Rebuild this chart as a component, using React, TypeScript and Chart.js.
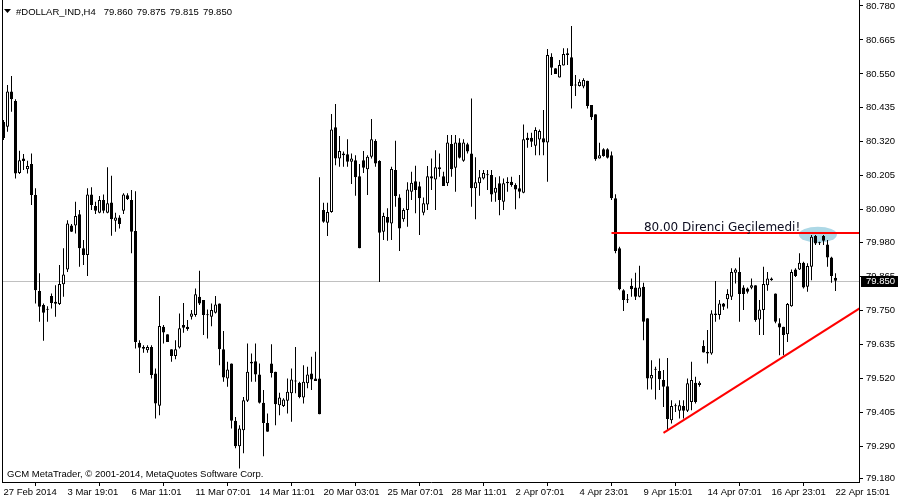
import React, { useEffect, useRef } from "react";
import { Chart, registerables } from "chart.js";
Chart.register(...registerables);

const opens = [
  80.387, 80.371, 80.490, 80.458, 80.215, 80.264, 80.227, 80.245, 80.140, 79.815,
  79.768, 79.753, 79.798, 79.779, 79.771, 79.838, 79.888, 80.037, 80.037, 80.075,
  79.960, 79.937, 80.142, 80.103, 80.080, 80.123, 80.080, 80.115, 80.053, 80.064,
  80.087, 80.139, 80.123, 80.018, 79.640, 79.626, 79.615, 79.626, 79.536, 79.427,
  79.694, 79.669, 79.618, 79.595, 79.624, 79.700, 79.694, 79.728, 79.734, 79.796,
  79.785, 79.734, 79.728, 79.742, 79.773, 79.618, 79.519, 79.570, 79.376, 79.290,
  79.344, 79.444, 79.576, 79.578, 79.533, 79.437, 79.369, 79.570, 79.542, 79.429,
  79.426, 79.444, 79.469, 79.510, 79.505, 79.455, 79.503, 79.536, 79.519, 79.519,
  80.089, 80.046, 80.083, 80.369, 80.264, 80.281, 80.278, 80.253, 80.258, 80.204,
  80.258, 80.227, 80.270, 80.323, 80.255, 80.016, 80.066, 80.044, 80.225, 80.132,
  80.058, 80.089, 80.151, 80.187, 80.170, 80.080, 80.108, 80.204, 80.193, 80.234,
  80.204, 80.180, 80.313, 80.232, 80.318, 80.256, 80.312, 80.281, 80.163, 80.180,
  80.196, 80.208, 80.208, 80.148, 80.180, 80.117, 80.180, 80.185, 80.174, 80.163,
  80.148, 80.334, 80.334, 80.307, 80.328, 80.332, 80.318, 80.608, 80.569, 80.538,
  80.578, 80.614, 80.606, 80.512, 80.509, 80.507, 80.527, 80.445, 80.413, 80.264,
  80.295, 80.295, 80.275, 80.129, 79.960, 79.818, 79.785, 79.833, 79.827, 79.796,
  79.830, 79.723, 79.519, 79.550, 79.545, 79.514, 79.493, 79.378, 79.426, 79.410,
  79.426, 79.410, 79.440, 79.505, 79.497, 79.629, 79.610, 79.604, 79.734, 79.734,
  79.773, 79.787, 79.796, 79.877, 79.880, 79.827, 79.824, 79.826, 79.835, 79.719,
  79.751, 79.835, 79.858, 79.807, 79.706, 79.694, 79.669, 79.764, 79.888, 79.888,
  79.911, 79.830, 79.897, 80.001, 79.978, 80.001, 79.973, 79.929, 79.860,
];
const highs = [
  80.394, 80.512, 80.543, 80.464, 80.290, 80.279, 80.256, 80.281, 80.163, 79.875,
  79.773, 79.764, 79.807, 79.835, 79.903, 79.960, 80.055, 80.042, 80.117, 80.089,
  79.988, 80.163, 80.166, 80.117, 80.137, 80.142, 80.234, 80.205, 80.080, 80.072,
  80.146, 80.146, 80.157, 80.153, 79.649, 79.632, 79.632, 79.632, 79.553, 79.798,
  79.700, 79.669, 79.618, 79.649, 79.739, 79.775, 79.717, 79.751, 79.824, 79.884,
  79.785, 79.753, 79.773, 79.798, 79.773, 79.680, 79.576, 79.570, 79.389, 79.361,
  79.457, 79.638, 79.604, 79.638, 79.570, 79.480, 79.401, 79.635, 79.542, 79.471,
  79.452, 79.519, 79.553, 79.626, 79.508, 79.564, 79.559, 79.593, 79.610, 80.200,
  80.114, 80.114, 80.414, 80.448, 80.340, 80.287, 80.329, 80.281, 80.275, 80.245,
  80.289, 80.275, 80.397, 80.329, 80.258, 80.080, 80.095, 80.236, 80.324, 80.143,
  80.095, 80.183, 80.219, 80.239, 80.185, 80.132, 80.238, 80.264, 80.292, 80.281,
  80.219, 80.343, 80.343, 80.343, 80.332, 80.329, 80.317, 80.467, 80.268, 80.225,
  80.225, 80.225, 80.225, 80.200, 80.204, 80.196, 80.200, 80.202, 80.180, 80.208,
  80.379, 80.351, 80.351, 80.369, 80.362, 80.428, 80.634, 80.620, 80.569, 80.597,
  80.637, 80.637, 80.712, 80.546, 80.532, 80.535, 80.527, 80.445, 80.413, 80.317,
  80.298, 80.298, 80.287, 80.143, 79.965, 79.821, 79.805, 79.858, 79.877, 79.901,
  79.843, 79.723, 79.581, 79.559, 79.587, 79.548, 79.589, 79.446, 79.435, 79.446,
  79.446, 79.519, 79.576, 79.525, 79.510, 79.649, 79.683, 79.750, 79.849, 79.785,
  79.775, 79.821, 79.892, 79.892, 79.929, 79.835, 79.827, 79.858, 79.835, 79.785,
  79.897, 79.880, 79.861, 79.807, 79.723, 79.694, 79.775, 79.888, 79.892, 79.943,
  79.914, 79.909, 80.005, 80.005, 79.982, 80.005, 79.988, 79.931, 79.875,
];
const lows = [
  80.326, 80.354, 80.422, 80.196, 80.211, 80.225, 80.213, 80.106, 79.773, 79.711,
  79.647, 79.711, 79.756, 79.728, 79.768, 79.796, 79.880, 80.015, 80.010, 79.897,
  79.903, 79.866, 80.089, 80.076, 80.078, 80.078, 80.078, 80.002, 80.016, 80.027,
  80.076, 80.123, 79.943, 79.621, 79.538, 79.606, 79.606, 79.519, 79.384, 79.395,
  79.638, 79.643, 79.576, 79.584, 79.621, 79.674, 79.681, 79.719, 79.728, 79.768,
  79.666, 79.655, 79.696, 79.739, 79.564, 79.508, 79.491, 79.350, 79.283, 79.215,
  79.266, 79.440, 79.508, 79.508, 79.435, 79.256, 79.339, 79.523, 79.361, 79.395,
  79.423, 79.401, 79.373, 79.469, 79.452, 79.435, 79.486, 79.480, 79.511, 79.398,
  80.046, 80.001, 80.080, 80.241, 80.236, 80.236, 80.236, 80.177, 80.138, 79.960,
  80.215, 80.140, 80.264, 80.236, 79.846, 79.988, 79.985, 79.988, 80.100, 79.951,
  80.050, 80.033, 80.123, 80.078, 80.005, 80.072, 80.089, 80.157, 80.089, 80.202,
  80.171, 80.171, 80.202, 80.151, 80.264, 80.253, 80.281, 80.100, 80.058, 80.138,
  80.193, 80.157, 80.117, 80.117, 80.072, 80.089, 80.151, 80.168, 80.092, 80.129,
  80.146, 80.300, 80.303, 80.275, 80.275, 80.275, 80.185, 80.546, 80.550, 80.538,
  80.578, 80.580, 80.433, 80.475, 80.507, 80.501, 80.433, 80.394, 80.256, 80.264,
  80.270, 80.264, 80.123, 79.943, 79.818, 79.748, 79.775, 79.796, 79.785, 79.794,
  79.649, 79.482, 79.482, 79.448, 79.480, 79.423, 79.344, 79.367, 79.406, 79.384,
  79.384, 79.406, 79.412, 79.435, 79.491, 79.607, 79.570, 79.600, 79.711, 79.719,
  79.751, 79.756, 79.785, 79.841, 79.711, 79.751, 79.807, 79.821, 79.711, 79.666,
  79.666, 79.816, 79.850, 79.706, 79.598, 79.598, 79.643, 79.762, 79.863, 79.886,
  79.824, 79.813, 79.852, 79.971, 79.971, 79.971, 79.897, 79.843, 79.815,
];
const closes = [
  80.333, 80.490, 80.464, 80.213, 80.258, 80.255, 80.238, 80.140, 79.818, 79.762,
  79.742, 79.752, 79.775, 79.772, 79.839, 79.871, 80.044, 80.016, 80.069, 79.960,
  79.937, 80.142, 80.106, 80.087, 80.123, 80.087, 80.112, 80.058, 80.064, 80.042,
  80.142, 80.127, 80.016, 79.643, 79.623, 79.620, 79.626, 79.531, 79.435, 79.697,
  79.675, 79.643, 79.595, 79.618, 79.689, 79.691, 79.687, 79.739, 79.804, 79.773,
  79.734, 79.733, 79.751, 79.770, 79.618, 79.523, 79.550, 79.376, 79.290, 79.350,
  79.446, 79.542, 79.570, 79.533, 79.437, 79.369, 79.339, 79.538, 79.432, 79.455,
  79.448, 79.474, 79.516, 79.509, 79.457, 79.508, 79.533, 79.516, 79.511, 79.398,
  80.050, 80.083, 80.362, 80.264, 80.289, 80.275, 80.253, 80.264, 80.200, 79.960,
  80.232, 80.270, 80.329, 80.247, 80.012, 80.069, 80.046, 80.228, 80.137, 80.027,
  80.089, 80.159, 80.182, 80.157, 80.129, 80.112, 80.204, 80.196, 80.234, 80.227,
  80.171, 80.318, 80.227, 80.318, 80.266, 80.318, 80.287, 80.163, 80.183, 80.200,
  80.215, 80.207, 80.142, 80.165, 80.123, 80.180, 80.185, 80.174, 80.159, 80.151,
  80.329, 80.326, 80.320, 80.360, 80.357, 80.318, 80.614, 80.571, 80.550, 80.580,
  80.617, 80.620, 80.509, 80.511, 80.523, 80.529, 80.441, 80.403, 80.261, 80.275,
  80.272, 80.266, 80.129, 79.951, 79.821, 79.785, 79.784, 79.821, 79.796, 79.827,
  79.711, 79.519, 79.531, 79.549, 79.517, 79.491, 79.382, 79.426, 79.425, 79.429,
  79.410, 79.503, 79.514, 79.440, 79.505, 79.607, 79.604, 79.739, 79.739, 79.773,
  79.762, 79.805, 79.880, 79.888, 79.805, 79.805, 79.813, 79.835, 79.717, 79.753,
  79.839, 79.858, 79.852, 79.711, 79.692, 79.666, 79.771, 79.880, 79.866, 79.911,
  79.827, 79.900, 79.999, 79.976, 79.977, 79.985, 79.929, 79.866, 79.850,
];

const timeTickBars = [0, 16, 32, 48, 64, 80, 96, 112, 128, 144, 160, 176, 192, 208];
const timeTickLabels = [
  "27 Feb 2014", "3 Mar 19:01", "6 Mar 11:01", "11 Mar 07:01", "14 Mar 11:01",
  "20 Mar 03:01", "25 Mar 07:01", "28 Mar 11:01", "2 Apr 07:01", "4 Apr 23:01",
  "9 Apr 15:01", "14 Apr 07:01", "16 Apr 23:01", "22 Apr 15:01",
];
const priceTicks = [
  80.780, 80.665, 80.550, 80.435, 80.320, 80.205, 80.090, 79.980,
  79.865, 79.750, 79.635, 79.520, 79.405, 79.290, 79.180,
];

const symbolTitle = "#DOLLAR_IND,H4";
const lastOHLC = ["79.860", "79.875", "79.815", "79.850"];
const lastPrice = 79.850;
const copyright = "GCM MetaTrader, \u00a9 2001-2014, MetaQuotes Software Corp.";

const resistancePrice = 80.010;
const resistanceStartBar = 152;
const noteText = "80.00 Direnci Ge\u00e7ilemedi!";
const noteBar = 160.1;
const notePrice = 80.018;
const highlightBar = 203.6;
const highlightPrice = 80.006;
const trendFromBar = 165;
const trendFromPrice = 79.335;
const trendToBar = 214.2;
const trendToPrice = 79.758;

const X_MIN = -0.125;
const X_MAX = 213.875;
const Y_MIN = 79.169;
const Y_MAX = 80.8;

const AXIS_FONT = "'Liberation Sans', Arial, sans-serif";

const overlayPlugin = {
  id: "mtOverlay",
  beforeDatasetsDraw(chart: any) {
    const { ctx, chartArea: a, scales } = chart;
    const x = scales.x;
    const y = scales.y;
    ctx.save();
    ctx.beginPath();
    ctx.rect(a.left, a.top, a.right - a.left, a.bottom - a.top);
    ctx.clip();
    // bid line
    const yp = Math.round(y.getPixelForValue(lastPrice)) + 0.5;
    ctx.strokeStyle = "#c0c0c0";
    ctx.lineWidth = 1;
    ctx.beginPath();
    ctx.moveTo(a.left, yp);
    ctx.lineTo(a.right, yp);
    ctx.stroke();
    // highlight ellipse
    ctx.fillStyle = "rgb(173,216,230)";
    ctx.beginPath();
    ctx.ellipse(
      x.getPixelForValue(highlightBar),
      y.getPixelForValue(highlightPrice),
      19, 8, 0, 0, Math.PI * 2
    );
    ctx.fill();
    ctx.restore();
  },
  afterDatasetsDraw(chart: any) {
    const { ctx, chartArea: a, scales } = chart;
    const x = scales.x;
    const y = scales.y;
    ctx.save();
    ctx.beginPath();
    ctx.rect(a.left, a.top, a.right - a.left, a.bottom - a.top);
    ctx.clip();
    ctx.strokeStyle = "#ff0000";
    ctx.lineWidth = 2;
    const ry = Math.round(y.getPixelForValue(resistancePrice));
    ctx.beginPath();
    ctx.moveTo(x.getPixelForValue(resistanceStartBar), ry);
    ctx.lineTo(a.right, ry);
    ctx.stroke();
    ctx.beginPath();
    ctx.moveTo(x.getPixelForValue(trendFromBar), y.getPixelForValue(trendFromPrice));
    ctx.lineTo(x.getPixelForValue(trendToBar), y.getPixelForValue(trendToPrice));
    ctx.stroke();
    ctx.fillStyle = "#0b0b1e";
    ctx.font = "12px 'DejaVu Sans', sans-serif";
    ctx.textBaseline = "alphabetic";
    ctx.textAlign = "left";
    ctx.fillText(noteText, x.getPixelForValue(noteBar), y.getPixelForValue(notePrice));
    ctx.restore();
  },
  afterDraw(chart: any) {
    const { ctx, chartArea: a, scales } = chart;
    const y = scales.y;
    ctx.save();
    // left frame
    ctx.fillStyle = "#000";
    ctx.fillRect(a.left - 1, 0, 1, a.bottom + 1);
    // title
    ctx.beginPath();
    ctx.moveTo(4, 9);
    ctx.lineTo(11, 9);
    ctx.lineTo(7.5, 13);
    ctx.closePath();
    ctx.fill();
    ctx.font = "9.5px " + AXIS_FONT;
    ctx.textBaseline = "alphabetic";
    ctx.textAlign = "left";
    ctx.fillText(symbolTitle, 16, 15);
    let tx = 16 + ctx.measureText(symbolTitle).width + 8;
    lastOHLC.forEach((s) => {
      ctx.fillText(s, tx, 15);
      tx += ctx.measureText(s).width + 4;
    });
    // copyright
    ctx.fillText(copyright, 7, 477);
    // last price box
    const py = y.getPixelForValue(lastPrice);
    ctx.fillStyle = "#000";
    ctx.fillRect(a.right + 2, Math.round(py) - 5, 37, 11);
    ctx.fillStyle = "#fff";
    ctx.textBaseline = "middle";
    ctx.fillText(lastPrice.toFixed(3), a.right + 7, Math.round(py) + 0.5);
    ctx.restore();
  },
};

export default function App() {
  const ref = useRef<HTMLCanvasElement | null>(null);
  useEffect(() => {
    if (!ref.current) return;
    const bodies = opens.map((o, i) => ({ x: i, y: [o, closes[i]] }));
    const wicks = lows.map((l, i) => ({ x: i, y: [l, highs[i]] }));
    const bodyColors = opens.map((o, i) => (closes[i] >= o ? "#ffffff" : "#000000"));
    const chart = new Chart(ref.current, {
      type: "bar",
      data: {
        datasets: [
          {
            data: bodies as any,
            backgroundColor: bodyColors,
            borderColor: "#000000",
            borderWidth: 1,
            borderSkipped: false,
            barThickness: 3,
            minBarLength: 1,
            inflateAmount: 0,
            grouped: false,
          } as any,
          {
            data: wicks as any,
            backgroundColor: "#000000",
            borderWidth: 0,
            barThickness: 1,
            inflateAmount: 0,
            grouped: false,
          } as any,
        ],
      },
      options: {
        animation: false,
        responsive: false,
        devicePixelRatio: 1,
        layout: { padding: { left: 3, top: 0, right: 0, bottom: 0 } },
        plugins: { legend: { display: false }, tooltip: { enabled: false } },
        scales: {
          x: {
            type: "linear",
            min: X_MIN,
            max: X_MAX,
            offset: false,
            afterBuildTicks: (s: any) => {
              s.ticks = timeTickBars.map((v) => ({ value: v }));
            },
            afterFit: (s: any) => {
              s.height = 18;
              s.paddingLeft = 0;
              s.paddingRight = 0;
            },
            ticks: {
              autoSkip: false,
              maxRotation: 0,
              minRotation: 0,
              align: "start",
              padding: 1,
              color: "#000",
              font: { family: AXIS_FONT, size: 9.5 },
              callback: (v: any) => {
                const k = timeTickBars.indexOf(Number(v));
                return k >= 0 ? timeTickLabels[k] : "";
              },
            },
            grid: { drawOnChartArea: false, drawTicks: true, tickLength: 4, color: "#000" },
            border: { display: true, color: "#000", width: 1 },
          },
          y: {
            type: "linear",
            position: "right",
            min: Y_MIN,
            max: Y_MAX,
            afterBuildTicks: (s: any) => {
              s.ticks = priceTicks.map((v) => ({ value: v }));
            },
            afterFit: (s: any) => {
              s.width = 41;
              s.paddingTop = 0;
              s.paddingBottom = 0;
            },
            ticks: {
              autoSkip: false,
              padding: 3,
              color: "#000",
              font: { family: AXIS_FONT, size: 9.5 },
              callback: (v: any) => Number(v).toFixed(3),
            },
            grid: { drawOnChartArea: false, drawTicks: true, tickLength: 4, color: "#000" },
            border: { display: true, color: "#000", width: 1 },
          },
        },
      } as any,
      plugins: [overlayPlugin],
    });
    return () => chart.destroy();
  }, []);
  return (
    <div style={{ position: "absolute", left: 0, top: 0, width: 900, height: 500, background: "#fff" }}>
      <canvas ref={ref} width={900} height={500} style={{ display: "block" }} />
    </div>
  );
}
